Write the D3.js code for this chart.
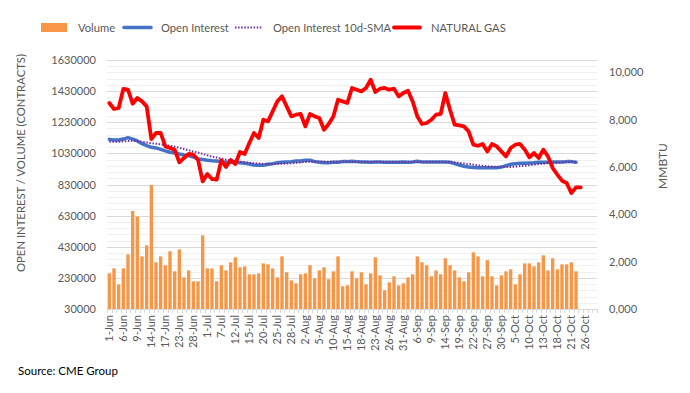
<!DOCTYPE html>
<html>
<head>
<meta charset="utf-8">
<script src="https://cdn.jsdelivr.net/npm/d3@7"></script>
<style>
  body { margin: 0; background: #fff; }
  svg text { font-family: Lato, "Open Sans", sans-serif; fill: #595959; }
</style>
</head>
<body>
<svg id="chart"></svg>
<script>
var svgWidth = 690;
var svgHeight = 393;

// plot box (pixels)
var plot = { left: 107, right: 597, top: 60, bottom: 309 };

// trading days, 1-Jun to 28-Oct
var june = [1,2,3,6,7,8,9,10,13,14,15,16,17,21,22,23,24,27,28,29,30];
var july = [1,5,6,7,8,11,12,13,14,15,18,19,20,21,22,25,26,27,28,29];
var aug  = [1,2,3,4,5,8,9,10,11,12,15,16,17,18,19,22,23,24,25,26,29,30,31];
var sep  = [1,2,6,7,8,9,12,13,14,15,16,19,20,21,22,23,26,27,28,29,30];
var oct  = [3,4,5,6,7,10,11,12,13,14,17,18,19,20,21,24,25,26,27,28];

var dates = [].concat(
  june.map(d => d + "-Jun"),
  july.map(d => d + "-Jul"),
  aug.map(d => d + "-Aug"),
  sep.map(d => d + "-Sep"),
  oct.map(d => d + "-Oct")
);

// volume (contracts)
var volume = [
  259, 291, 188, 291, 381, 660, 625, 368, 439, 827,
  330, 368, 311, 401, 272, 413, 233, 278, 208, 208,
  503, 291, 291, 208, 311, 278, 330, 362, 298, 304,
  253, 253, 259, 323, 317, 291, 233, 368, 266, 214,
  195, 253, 259, 311, 227, 278, 298, 221, 272, 368,
  176, 182, 272, 227, 266, 188, 259, 362, 246, 150,
  201, 240, 182, 195, 233, 253, 368, 330, 311, 240,
  278, 253, 356, 311, 278, 233, 208, 266, 394, 368,
  240, 343, 240, 182, 246, 272, 285, 188, 253, 323,
  323, 304, 330, 375, 278, 356, 285, 317, 317, 330,
  272
].map(v => v * 1000);

// open interest (contracts)
var openInterest = [
  1120, 1116, 1116, 1122, 1131, 1122, 1110, 1092, 1080, 1069,
  1065, 1056, 1046, 1037, 1033, 1026, 1020, 1016, 1007, 994,
  990, 986, 983, 981, 977, 973, 973, 973, 970, 966,
  962, 955, 953, 953, 960, 964, 970, 973, 975, 977,
  981, 981, 986, 986, 977, 973, 970, 970, 973, 973,
  977, 977, 979, 977, 975, 975, 973, 975, 975, 973,
  973, 973, 973, 975, 973, 975, 979, 975, 975, 975,
  975, 975, 975, 973, 964, 955, 947, 942, 940, 938,
  938, 938, 938, 938, 942, 951, 960, 964, 966, 966,
  968, 970, 973, 973, 973, 975, 975, 975, 977, 977,
  973
].map(v => v * 1000);

// open interest 10d-SMA
var oiSma = [
  1105, 1105, 1105, 1106, 1110, 1112, 1110, 1104, 1100, 1095,
  1092, 1088, 1084, 1079, 1073, 1066, 1058, 1050, 1041, 1035,
  1027, 1018, 1009, 1003, 996, 990, 984, 980, 976, 973,
  970, 967, 965, 963, 962, 962, 962, 963, 965, 967,
  969, 972, 975, 976, 977, 977, 977, 976, 976, 976,
  976, 976, 975, 975, 975, 975, 975, 975, 975, 975,
  975, 975, 974, 974, 974, 974, 975, 975, 975, 975,
  975, 975, 975, 975, 972, 969, 965, 962, 957, 953,
  950, 947, 945, 943, 942, 942, 943, 945, 948, 951,
  954, 958, 961, 964, 967, 969, 971, 972, 973, 974,
  975
].map(v => v * 1000);

// natural gas price (right axis)
var naturalGas = [
  8708, 8454, 8496, 9300, 9270, 8678, 8919, 8775, 8564, 7186,
  7440, 7440, 6873, 6806, 6734, 6197, 6383, 6552, 6522, 6311,
  5394, 5706, 5495, 5466, 6281, 6002, 6300, 6129, 6636, 6552,
  7017, 7440, 7228, 8002, 7930, 8353, 8775, 8987, 8564, 8141,
  8213, 8243, 7719, 8243, 8141, 8073, 7579, 7820, 8141, 8847,
  8775, 8708, 9342, 9270, 9198, 9342, 9693, 9173, 9312, 9342,
  9270, 9312, 8987, 9130, 9228, 8775, 8141, 7820, 7862, 8002,
  8213, 8243, 9130, 8424, 7790, 7761, 7719, 7500, 6950, 6900,
  6975, 6662, 6975, 6873, 6662, 6450, 6806, 6945, 6975, 6746,
  6408, 6594, 6383, 6734, 6450, 5960, 5677, 5423, 5326, 4903,
  5140, 5140
];

var leftTicks = [30000, 230000, 430000, 630000, 830000, 1030000, 1230000, 1430000, 1630000];
var rightTicks = [0, 2000, 4000, 6000, 8000, 10000];
var rightTickLabels = ["0,000", "2,000", "4,000", "6,000", "8,000", "10,000"];

var svg = d3.select("#chart")
  .attr("width", svgWidth)
  .attr("height", svgHeight);

// scales
var xScale = d3.scaleBand()
  .domain(d3.range(dates.length))
  .range([plot.left, plot.right])
  .paddingInner(0.28)
  .paddingOuter(0.14);

var step = xScale.step();
var xMid = i => xScale(i) + xScale.bandwidth() / 2;

var yLeft = d3.scaleLinear()
  .domain([30000, 1630000])
  .range([plot.bottom, plot.top]);

var yRight = d3.scaleLinear()
  .domain([0, 10525])
  .range([plot.bottom, plot.top]);

// gridlines: minor every 40000, major every 200000
var minorTicks = d3.range(30000, 1630001, 40000);

svg.append("g")
  .selectAll("line")
  .data(minorTicks)
  .enter()
  .append("line")
  .attr("x1", plot.left)
  .attr("x2", plot.right)
  .attr("y1", d => Math.round(yLeft(d)) + 0.5)
  .attr("y2", d => Math.round(yLeft(d)) + 0.5)
  .attr("stroke", "#f0f0f0");

svg.append("g")
  .selectAll("line")
  .data(leftTicks.slice(1))
  .enter()
  .append("line")
  .attr("x1", plot.left)
  .attr("x2", plot.right)
  .attr("y1", d => Math.round(yLeft(d)) + 0.5)
  .attr("y2", d => Math.round(yLeft(d)) + 0.5)
  .attr("stroke", "#d9d9d9");

// volume bars
svg.append("g")
  .selectAll("rect")
  .data(volume)
  .enter()
  .append("rect")
  .attr("x", (d, i) => xScale(i))
  .attr("width", xScale.bandwidth())
  .attr("y", d => yLeft(d))
  .attr("height", d => plot.bottom - yLeft(d))
  .attr("fill", "#f79646");

// category axis line and tick marks at band edges
var xAxisG = svg.append("g");
xAxisG.append("line")
  .attr("x1", plot.left)
  .attr("x2", plot.right)
  .attr("y1", plot.bottom + 0.5)
  .attr("y2", plot.bottom + 0.5)
  .attr("stroke", "#d9d9d9");

xAxisG.selectAll(".edge")
  .data(d3.range(dates.length + 1))
  .enter()
  .append("line")
  .attr("class", "edge")
  .attr("x1", i => Math.round(plot.left + i * step) + 0.5)
  .attr("x2", i => Math.round(plot.left + i * step) + 0.5)
  .attr("y1", plot.bottom)
  .attr("y2", plot.bottom + 4)
  .attr("stroke", "#d9d9d9");

var bottomAxis = d3.axisBottom(xScale)
  .tickValues(d3.range(0, dates.length, 3))
  .tickFormat(i => dates[i])
  .tickSize(0)
  .tickPadding(0);

var xLabels = svg.append("g")
  .attr("transform", `translate(0, ${plot.bottom})`)
  .call(bottomAxis);
xLabels.select(".domain").remove();
xLabels.selectAll("text")
  .attr("font-size", 11)
  .attr("fill", "#595959")
  .attr("text-anchor", "end")
  .attr("transform", "rotate(-90)")
  .attr("x", -6)
  .attr("y", 0)
  .attr("dy", "0.35em");

// left axis
var leftAxis = d3.axisLeft(yLeft)
  .tickValues(leftTicks)
  .tickFormat(d3.format("d"))
  .tickSize(0)
  .tickPadding(11);

var yAxisL = svg.append("g")
  .attr("transform", `translate(${plot.left}, 0)`)
  .call(leftAxis);
yAxisL.select(".domain").remove();
yAxisL.selectAll("text")
  .attr("font-size", 11)
  .attr("fill", "#595959");

// right axis
var rightAxis = d3.axisRight(yRight)
  .tickValues(rightTicks)
  .tickFormat((d, i) => rightTickLabels[i])
  .tickSize(0)
  .tickPadding(12);

var yAxisR = svg.append("g")
  .attr("transform", `translate(${plot.right}, 0)`)
  .call(rightAxis);
yAxisR.select(".domain").remove();
yAxisR.selectAll("text")
  .attr("font-size", 11)
  .attr("fill", "#595959");

// lines
var oiLine = d3.line()
  .x((d, i) => xMid(i))
  .y(d => yLeft(d));

var gasLine = d3.line()
  .x((d, i) => xMid(i))
  .y(d => yRight(d));

svg.append("path")
  .datum(openInterest)
  .attr("d", oiLine)
  .attr("fill", "none")
  .attr("stroke", "#4472c4")
  .attr("stroke-width", 3.5)
  .attr("stroke-linejoin", "round")
  .attr("stroke-linecap", "round");

svg.append("path")
  .datum(oiSma)
  .attr("d", oiLine)
  .attr("fill", "none")
  .attr("stroke", "#7030a0")
  .attr("stroke-width", 2)
  .attr("stroke-dasharray", "1.5,1.6");

svg.append("path")
  .datum(naturalGas)
  .attr("d", gasLine)
  .attr("fill", "none")
  .attr("stroke", "#ff0000")
  .attr("stroke-width", 3.8)
  .attr("stroke-linejoin", "round")
  .attr("stroke-linecap", "round");

// axis titles
svg.append("text")
  .attr("transform", "translate(24.5, 163) rotate(-90)")
  .attr("text-anchor", "middle")
  .attr("font-size", 11.3)
  .text("OPEN INTEREST / VOLUME (CONTRACTS)");

svg.append("text")
  .attr("transform", "translate(667, 166) rotate(-90)")
  .attr("text-anchor", "middle")
  .attr("font-size", 12)
  .text("MMBTU");

// legend
var legend = svg.append("g");
legend.append("rect")
  .attr("x", 41).attr("y", 23)
  .attr("width", 26).attr("height", 9)
  .attr("fill", "#f79646");
legend.append("line")
  .attr("x1", 124).attr("x2", 151).attr("y1", 27.5).attr("y2", 27.5)
  .attr("stroke", "#4472c4").attr("stroke-width", 3.5).attr("stroke-linecap", "round");
legend.append("line")
  .attr("x1", 235).attr("x2", 262).attr("y1", 27.5).attr("y2", 27.5)
  .attr("stroke", "#7030a0").attr("stroke-width", 2).attr("stroke-dasharray", "1.5,1.6");
legend.append("line")
  .attr("x1", 394).attr("x2", 420).attr("y1", 27.5).attr("y2", 27.5)
  .attr("stroke", "#ff0000").attr("stroke-width", 3.8).attr("stroke-linecap", "round");

var legendNames = ["Volume", "Open Interest", "Open Interest 10d-SMA", "NATURAL GAS"];
var legendX = [78, 161, 273, 431];
legend.selectAll(".lbl")
  .data(legendNames)
  .enter()
  .append("text")
  .attr("class", "lbl")
  .attr("x", (d, i) => legendX[i])
  .attr("y", 31.5)
  .attr("font-size", 11.2)
  .text(d => d);

// source
svg.append("text")
  .attr("x", 18)
  .attr("y", 375)
  .attr("font-size", 11.5)
  .style("fill", "#000")
  .text("Source: CME Group");
</script>
</body>
</html>
